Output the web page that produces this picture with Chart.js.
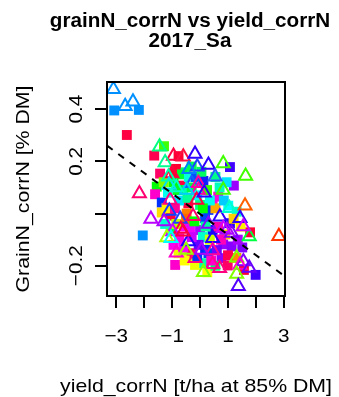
<!DOCTYPE html>
<html>
<head>
<meta charset="utf-8">
<script src="https://cdn.jsdelivr.net/npm/chart.js@4/dist/chart.umd.min.js"></script>
<style>
  html, body { margin: 0; padding: 0; background: #ffffff; }
  canvas { display: block; }
</style>
</head>
<body>
<canvas id="chart" width="339" height="397"></canvas>
<script>
// Titles and axis labels
const titleLines = ['grainN_corrN vs yield_corrN', '2017_Sa'];
const xTitle = 'yield_corrN [t/ha at 85% DM]';
const yTitle = 'GrainN_corrN [% DM]';

// Axis ticks (blank labels are skipped where they would crowd)
const xTicks = [-3, -2, -1, 0, 1, 2, 3];
const xTickLabels = ['\u22123', '', '\u22121', '', '1', '', '3'];
const yTicks = [-0.2, 0, 0.2, 0.4];
const yTickLabels = ['\u22120.2', '', '0.2', '0.4'];
const xRange = [-3.33, 3.04];
const yRange = [-0.316, 0.504];

// Linear fit of grain N on yield
const fitIntercept = -0.002;
const fitSlope = -0.0787;

// Filled squares
const squareX = [-3.07, -2.19, -2.62, -2.05, -1.29, -1.64, -0.77, -0.86, -0.93, -1.43,
  -0.52, -0.69, 0.12, 1.07, 1.21, -1.55, -1.61, -1.37, 0.65, 0.45,
  1.01, -0.42, 0.30, -1.37, -1.05, 1.31, 0.00, 0.18, -0.54, 0.00,
  -0.36, 0.45, 1.79, 1.07, -0.74, 0.83, 1.13, 1.51, 0.18, -0.77,
  -0.42, -0.30, 0.30, 0.77, -0.89, -0.18, 0.99, 0.26, 1.57, 1.99,
  -0.48, -0.95, -0.60, -0.30, -0.10, 0.25, 0.55, -0.75, -0.50, -0.20,
  0.10, 0.35, 0.65, 0.90, -0.60, -0.05, 0.55, 1.30, 1.45, -1.15,
  -1.05, -0.30, 0.55, 0.85, -0.85, 0.15,
  -1.20, -0.90, -0.65, -0.40, -0.15, 0.05, 0.35, 0.70, -0.95, -0.30,
  0.20, 0.75, 1.20, 1.00, -0.55, 0.40, -1.25, -0.80, 0.10, 1.35,
  -0.10, 0.60, -1.30, 0.95, -0.45];
const squareY = [0.395, 0.397, 0.301, -0.084, 0.258, 0.222, 0.220, 0.171, 0.153, 0.153,
  0.158, 0.107, 0.125, 0.178, 0.107, 0.103, 0.074, 0.042, 0.065, 0.048,
  0.030, 0.039, 0.014, 0.004, -0.008, 0.007, 0.033, -0.018, -0.050, -0.063,
  -0.056, -0.063, -0.072, -0.037, -0.095, -0.118, -0.126, -0.130, -0.139, -0.152,
  -0.165, -0.152, -0.152, -0.171, -0.197, -0.197, -0.199, -0.225, -0.216, -0.235,
  0.000, 0.120, 0.090, 0.100, 0.070, 0.090, 0.020, 0.050, -0.020, -0.030,
  -0.090, -0.100, -0.050, -0.080, -0.130, -0.120, -0.200, -0.170, -0.050, 0.080,
  -0.060, 0.180, 0.140, 0.050, -0.040, -0.190,
  0.020, 0.020, 0.150, 0.140, 0.140, 0.160, 0.050, 0.100, -0.120, -0.090,
  -0.050, -0.100, -0.020, -0.160, -0.180, -0.180, -0.040, 0.090, 0.020, -0.100,
  -0.170, -0.140, 0.120, 0.120, 0.060];
const squareColor = ['#0090FF', '#0090FF', '#FF0040', '#0090FF', '#40FF00', '#FF0050', '#FF0030', '#FF0030', '#FF0030', '#FF0066',
  '#00FF70', '#FF0040', '#1020FF', '#4000FF', '#9900FF', '#00FF00', '#FF00CC', '#0030FF', '#FF00CC', '#FF00DD',
  '#00FFFF', '#FF0040', '#0030FF', '#FFDD00', '#FF0040', '#00FFCC', '#00FF80', '#0040FF', '#FF00FF', '#AA00FF',
  '#EE00FF', '#0010FF', '#FF0030', '#2000FF', '#FF00DD', '#9900FF', '#8800FF', '#8000FF', '#0020FF', '#EEFF00',
  '#CCFF00', '#FF0060', '#0040FF', '#9000FF', '#FF00CC', '#EEFF00', '#FF0066', '#FFFF00', '#FF0030', '#4000FF',
  '#FF8000', '#00FF00', '#00FFAA', '#00FF40', '#00FFFF', '#33FF00', '#FFAA00', '#00E0FF', '#FF6600', '#00FF00',
  '#00FFCC', '#CCFF00', '#FF00AA', '#FFCC00', '#FF00FF', '#6600FF', '#00FF66', '#FF8800', '#FFEE00', '#00FFEE',
  '#00FF55', '#00FF55', '#00FF88', '#00CCFF', '#BBFF00', '#00FFAA',
  '#FFEE00', '#FF0099', '#00FF30', '#00FFDD', '#0050FF', '#00FF60', '#00FFEE', '#00FFBB', '#FF00EE', '#CC00FF',
  '#00FF99', '#FF00BB', '#FFD000', '#FF0050', '#FFFF00', '#FF00CC', '#00FFCC', '#00FF20', '#00FF00', '#AA00FF',
  '#0030FF', '#7000FF', '#80FF00', '#00E5FF', '#00FF99'];

// Open triangles
const triangleX = [-3.10, -2.68, -2.40, -2.17, 2.82, -1.45, -0.95, -0.60, -0.18, -0.10,
  0.30, 0.83, 1.63, -1.25, -1.01, -1.11, -0.30, -0.06, 0.54, 0.83,
  -1.13, -1.07, -0.06, -0.48, -0.12, 0.71, 1.61, -1.10, 1.43, -1.76,
  -1.29, -0.71, -0.69, -0.98, 1.13, 1.76, 1.55, 0.83, -1.19, -1.04,
  -0.42, 0.45, 0.45, -0.18, 1.31, 0.45, 1.55, 1.43, 0.12, 1.31,
  1.76, 1.37, -0.61, 0.96,
  -0.85, -0.40, 0.15, -0.25, 0.30, -0.85, 0.05, 1.05, -0.50, 0.70];
const triangleY = [0.476, 0.411, 0.428, 0.077, -0.087, 0.256, 0.220, 0.218, 0.228, 0.179,
  0.186, 0.192, 0.144, 0.196, 0.153, 0.109, 0.116, 0.116, 0.141, 0.090,
  0.141, 0.052, 0.090, 0.090, 0.052, -0.012, 0.030, 0.010, -0.018, -0.021,
  -0.031, -0.021, -0.059, -0.069, -0.075, -0.088, -0.050, -0.056, -0.092, -0.095,
  -0.107, -0.095, -0.142, -0.171, -0.169, -0.194, -0.184, -0.197, -0.225, -0.232,
  -0.209, -0.279, -0.070, -0.063,
  0.100, 0.170, 0.080, -0.010, -0.040, -0.150, -0.140, 0.020, -0.140, -0.210];
const triangleColor = ['#0090FF', '#0090FF', '#0090FF', '#FF0070', '#FF3300', '#00FF80', '#FF0040', '#FF1040', '#3000FF', '#2040FF',
  '#3000FF', '#40FF00', '#40FF00', '#00FF90', '#FF0040', '#00DDFF', '#1060FF', '#FF00A0', '#2060FF', '#40FF00',
  '#00FFAA', '#FF0080', '#FF00AA', '#00CCFF', '#FF0040', '#3000FF', '#FF6000', '#1040FF', '#3000FF', '#BB00FF',
  '#AA00FF', '#2040FF', '#FF0040', '#CC00FF', '#8000FF', '#00FF40', '#CC00FF', '#CC00FF', '#AAFF00', '#00FFFF',
  '#2000FF', '#2000FF', '#FF00A0', '#FF0080', '#80FF00', '#FF0099', '#8000FF', '#FF00CC', '#80FF00', '#80FF00',
  '#6600FF', '#5500FF', '#FF0040', '#AA00FF',
  '#00FFCC', '#0080FF', '#3000FF', '#FF0066', '#8800FF', '#FF00CC', '#AA00FF', '#00FFCC', '#99FF00', '#FF0080'];

const fontFamily = '"Liberation Sans", Arial, Helvetica, sans-serif';

function toPoints(xs, ys) {
  return xs.map((x, i) => ({ x: x, y: ys[i] }));
}

function stretchedText(ctx, text, x, y, font, stretch, rotation) {
  ctx.save();
  ctx.translate(x, y);
  ctx.rotate(rotation);
  ctx.scale(stretch, 1);
  ctx.font = font;
  ctx.fillStyle = '#000000';
  ctx.textAlign = 'center';
  ctx.textBaseline = 'alphabetic';
  ctx.fillText(text, 0, 0);
  ctx.restore();
}

// Box, ticks and all text, laid out in base-graphics style
const frameAndLabels = {
  id: 'frameAndLabels',
  afterDraw(chart) {
    const ctx = chart.ctx;
    const area = chart.chartArea;
    const xs = chart.scales.x;
    const ys = chart.scales.y;
    const tickLen = 12;

    ctx.save();
    ctx.strokeStyle = '#000000';
    ctx.lineWidth = 2;
    ctx.strokeRect(area.left, area.top, area.right - area.left, area.bottom - area.top);

    ctx.beginPath();
    xTicks.forEach(v => {
      const px = Math.round(xs.getPixelForValue(v));
      ctx.moveTo(px, area.bottom);
      ctx.lineTo(px, area.bottom + tickLen);
    });
    yTicks.forEach(v => {
      const py = Math.round(ys.getPixelForValue(v));
      ctx.moveTo(area.left, py);
      ctx.lineTo(area.left - tickLen, py);
    });
    ctx.stroke();
    ctx.restore();

    const tickFont = '18.5px ' + fontFamily;
    xTicks.forEach((v, i) => {
      if (!xTickLabels[i]) return;
      stretchedText(ctx, xTickLabels[i], xs.getPixelForValue(v), area.bottom + 46, tickFont, 1.12, 0);
    });
    yTicks.forEach((v, i) => {
      if (!yTickLabels[i]) return;
      stretchedText(ctx, yTickLabels[i], 82, ys.getPixelForValue(v), tickFont, 1.12, -Math.PI / 2);
    });

    const midX = (area.left + area.right) / 2;
    const midY = (area.top + area.bottom) / 2;
    stretchedText(ctx, xTitle, midX, 392, '18.5px ' + fontFamily, 1.15, 0);
    stretchedText(ctx, yTitle, 29, midY, '18.5px ' + fontFamily, 1.15, -Math.PI / 2);

    const titleFont = 'bold 19.5px ' + fontFamily;
    stretchedText(ctx, titleLines[0], 190, 27, titleFont, 1.06, 0);
    stretchedText(ctx, titleLines[1], 190, 47, titleFont, 1.06, 0);
  }
};

new Chart(document.getElementById('chart'), {
  data: {
    datasets: [
      {
        type: 'line',
        order: 0,
        data: [
          { x: xRange[0], y: fitIntercept + fitSlope * xRange[0] },
          { x: xRange[1], y: fitIntercept + fitSlope * xRange[1] }
        ],
        borderColor: '#000000',
        borderWidth: 2,
        borderDash: [7, 7],
        pointRadius: 0,
        fill: false
      },
      {
        type: 'scatter',
        order: 1,
        data: toPoints(triangleX, triangleY),
        pointStyle: 'triangle',
        pointRadius: 7.5,
        pointBorderWidth: 2,
        pointBackgroundColor: 'rgba(0,0,0,0)',
        pointBorderColor: triangleColor
      },
      {
        type: 'scatter',
        order: 2,
        data: toPoints(squareX, squareY),
        pointStyle: 'rect',
        pointRadius: 7,
        pointBorderWidth: 0,
        pointBackgroundColor: squareColor,
        pointBorderColor: squareColor
      }
    ]
  },
  options: {
    responsive: false,
    animation: false,
    events: [],
    devicePixelRatio: 1,
    layout: { padding: { left: 107, right: 54, top: 82, bottom: 101 } },
    plugins: { legend: { display: false }, tooltip: { enabled: false }, title: { display: false } },
    scales: {
      x: { type: 'linear', min: xRange[0], max: xRange[1], display: false },
      y: { type: 'linear', min: yRange[0], max: yRange[1], display: false }
    }
  },
  plugins: [frameAndLabels]
});
</script>
</body>
</html>
